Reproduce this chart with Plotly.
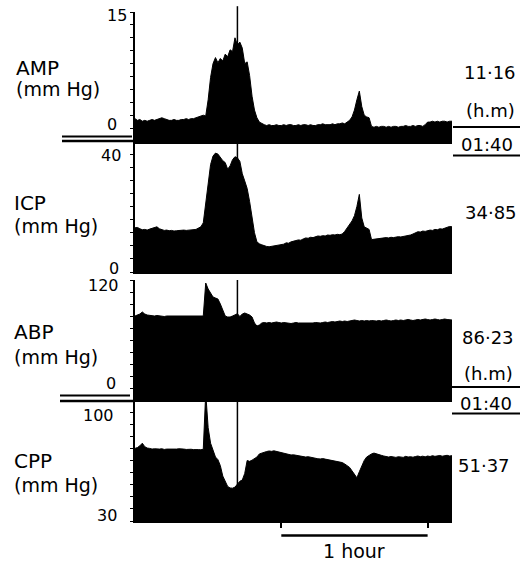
import plotly.graph_objects as go

# ---- recorded trend data (one sample per minute) ----
minutes = list(range(0, 131))

amp = [
    2.6, 2.4, 2.5, 2.3, 2.4, 2.3, 2.4, 2.5, 2.4, 2.5,
    2.6, 2.7, 2.6, 2.5, 2.4, 2.4, 2.5, 2.4, 2.4, 2.5,
    2.5, 2.6, 2.5, 2.6, 2.6, 2.7, 2.8, 2.9, 3.0, 2.9,
    4.8, 7.4, 9.0, 9.7, 9.1, 9.6, 9.3, 10.1, 9.8, 10.6,
    10.4, 12.0, 11.16, 11.5, 10.8, 9.0, 9.2, 7.6, 5.2, 3.6,
    2.7, 2.2, 2.0, 1.9, 1.8, 1.9, 1.8, 1.8, 1.9, 1.8,
    1.8, 1.9, 1.8, 1.9, 1.9, 1.8, 1.8, 1.9, 1.8, 1.9,
    1.9, 1.8, 1.9, 1.8, 1.8, 1.9, 1.9, 2.0, 1.9, 1.9,
    1.9, 2.0, 1.9, 2.0, 2.0, 2.1, 2.0, 2.2, 2.4, 2.8,
    3.6, 4.8, 5.8, 4.0, 3.0, 2.8, 2.7, 1.7, 1.6, 1.7,
    1.6, 1.7, 1.7, 1.6, 1.7, 1.6, 1.7, 1.7, 1.6, 1.7,
    1.7, 1.8, 1.7, 1.7, 1.8, 1.7, 1.8, 1.8, 1.7, 1.9,
    2.2, 2.2, 2.3, 2.2, 2.3, 2.2, 2.3, 2.3, 2.2, 2.3,
    2.3,
]

icp = [
    13.5, 13.6, 13.2, 12.9, 13.0, 12.8, 13.1, 13.4, 13.6, 13.8,
    13.2, 12.9, 12.7, 12.8, 12.6, 12.7, 12.5, 12.6, 12.7, 12.6,
    12.8, 12.7, 12.8, 12.9, 12.8, 13.0, 13.4, 13.8, 15.0, 21.0,
    28.5, 32.8, 35.4, 36.3, 36.0, 35.0, 34.0, 33.4, 31.4, 32.4,
    34.3, 35.2, 34.85, 33.8, 30.0, 27.8, 25.5, 21.5, 17.0, 12.0,
    9.2, 8.6, 8.3, 8.0, 7.8, 7.7, 7.8, 7.9, 8.1, 8.3,
    8.2, 8.5, 8.9, 8.8, 9.2, 9.5, 9.6, 9.8, 9.7, 10.1,
    10.4, 10.3, 10.6, 10.5, 10.8, 11.0, 10.9, 11.1, 11.0, 11.3,
    11.2, 11.4, 11.3, 11.5, 11.4, 11.6, 12.4, 13.5, 14.4, 15.6,
    17.2, 20.0, 23.7, 16.5, 13.8, 13.4, 13.0, 9.9, 10.0, 10.2,
    10.1, 10.4, 10.3, 10.5, 10.4, 10.6, 10.5, 10.7, 10.8, 10.7,
    10.8, 10.9, 11.0, 11.3, 11.6, 12.0, 12.3, 12.2, 12.5, 12.4,
    12.6, 12.8, 12.7, 13.0, 12.9, 13.2, 13.1, 13.4, 13.6, 13.9,
    13.8,
]

abp = [
    84, 85, 86, 88, 86, 85, 84.5, 84, 84, 84.5,
    84, 84, 83.5, 84, 84, 83.5, 84, 84, 83.5, 84,
    84, 83.5, 84, 84, 83.5, 84, 84, 84, 84, 117,
    111, 107, 103, 102, 101, 96, 89, 84, 83, 83,
    84, 85, 86.23, 83.5, 86, 87, 86, 85, 83, 77,
    74, 75, 77, 77.5, 77, 77.5, 77, 77.5, 78, 77.5,
    77, 77.5, 77, 77, 76.5, 77, 77.5, 77, 77, 76.5,
    77, 77, 76.5, 77, 77.5, 77, 77, 77.5, 78, 77.5,
    78, 78.5, 78, 78.5, 79, 78.5, 79, 78.5, 79, 79.5,
    80, 79.5, 79, 79.5, 79, 79.5, 79, 79.5, 79, 79,
    79.5, 79, 79.5, 80, 79.5, 79, 79.5, 80, 79.5, 80,
    79.5, 80, 80.5, 80, 79.5, 80, 80.5, 80, 80.5, 81,
    80.5, 80, 80.5, 81, 80.5, 80, 80.5, 81, 80.5, 80,
    80,
]

cpp = [
    72.0, 72.5, 73.5, 75.0, 73.0, 72.2, 72.0, 71.6, 71.8, 71.5,
    71.6, 71.8, 71.4, 71.6, 71.5, 71.7, 71.5, 71.6, 71.8, 71.5,
    71.6, 71.4, 71.6, 71.5, 71.3, 71.5, 71.3, 71.2, 71.5, 104.0,
    84.0, 75.0, 71.0, 67.0, 65.5, 62.0, 56.0, 52.6, 50.0, 49.1,
    49.0, 49.6, 51.37, 53.0, 53.7, 57.5, 65.0, 64.5, 65.2, 66.2,
    67.0, 68.8, 69.4, 69.9, 70.2, 70.5, 70.3, 70.6, 70.2, 69.8,
    69.5, 69.0, 68.6, 68.4, 68.2, 68.3, 68.0, 67.8, 67.5, 67.4,
    67.0, 67.2, 66.8, 66.6, 66.2, 66.0, 65.9, 66.1, 65.8, 65.5,
    65.2, 64.9, 64.5, 64.3, 64.1, 63.8, 63.0, 62.0, 61.0, 59.0,
    57.0, 55.0, 58.5, 62.0, 65.0, 67.0, 68.0, 68.8, 69.3, 69.0,
    68.5, 68.0, 67.6, 67.2, 67.0, 67.3, 67.0, 66.8, 67.2, 67.0,
    66.8, 67.4, 67.0, 67.2, 66.9, 67.3, 67.6, 67.2, 67.5, 67.1,
    67.6, 67.3, 67.8, 67.4, 67.6, 67.9, 67.5, 67.7, 68.0, 67.6,
    67.8,
]

channel_names = ["AMP", "ICP", "ABP", "CPP"]
unit_label = "(mm Hg)"
axis_ranges = [(0, 15), (0, 40), (0, 120), (30, 100)]
cursor_min = 42
cursor_time = "01:40"
time_unit = "(h.m)"
bar_start, bar_end = 60, 120
bar_label = "1 hour"

series = [amp, icp, abp, cpp]

# ---- page geometry (pixels) ----
W, H = 520, 564
L, R, T, B = 135, 68, 12, 43
PW, PH = W - L - R, H - T - B


def px(x):
    return (x - L) / PW


def py(y):
    return (H - B - y) / PH


FONT = "DejaVu Sans"
domains = [
    [py(141), py(12)],
    [py(272), py(141)],
    [py(400), py(280)],
    [py(521), py(400)],
]
minor_steps = [1.5, 4, 12, 7]
bottom_line_w = [2.5, 2, 2, 1.5]

fig = go.Figure()
for i, vals in enumerate(series):
    ax = "" if i == 0 else str(i + 1)
    fig.add_trace(go.Scatter(
        x=minutes, y=vals, mode="lines",
        line=dict(color="black", width=1),
        fill="tozeroy", fillcolor="black",
        xaxis="x" + ax, yaxis="y" + ax, hoverinfo="skip",
    ))

layout = dict(
    width=W, height=H,
    margin=dict(l=L, r=R, t=T, b=B, pad=0),
    paper_bgcolor="white", plot_bgcolor="white",
    showlegend=False,
    font=dict(family=FONT, color="black"),
)
for i in range(4):
    ax = "" if i == 0 else str(i + 1)
    lo, hi = axis_ranges[i]
    layout["xaxis" + ax] = dict(
        domain=[0, 1], range=[0, 130], anchor="y" + ax,
        showline=True, linecolor="black", linewidth=bottom_line_w[i],
        showgrid=False, zeroline=False, showticklabels=False,
        ticks="outside" if i == 3 else "",
        tickvals=[bar_start, bar_end] if i == 3 else [],
        ticklen=5, tickwidth=1.5, tickcolor="black",
        matches=None if i == 0 else "x",
    )
    layout["yaxis" + ax] = dict(
        domain=domains[i], range=[lo, hi], anchor="x" + ax,
        showline=True, linecolor="black", linewidth=2,
        showgrid=False, zeroline=False, showticklabels=False,
        ticks="outside", tickmode="linear", tick0=lo, dtick=minor_steps[i],
        ticklen=3, tickwidth=1.2, tickcolor="black",
    )
fig.update_layout(**layout)

shapes = []
# cursor line through every channel
for i in range(4):
    ax = "" if i == 0 else str(i + 1)
    shapes.append(dict(
        type="line", xref="x" + ax, yref="y" + ax + " domain",
        x0=cursor_min, x1=cursor_min, y0=0, y1=1.045 if i == 0 else 1,
        line=dict(color="black", width=1.5),
    ))


def hline(x0, x1, y, w=2):
    shapes.append(dict(type="line", xref="paper", yref="paper",
                       x0=px(x0), x1=px(x1), y0=py(y), y1=py(y),
                       line=dict(color="black", width=w)))


# double rules at the left of the channel pairs
hline(62, 132, 136.5, 2)
hline(62, 135, 141, 2.5)
hline(60, 130, 395.5, 2)
hline(60, 135, 401, 2.5)
# rules around the cursor time on the right
hline(453, 520, 127, 2)
hline(453, 520, 155.5, 2)
hline(452, 520, 387, 2)
hline(452, 520, 413.5, 2)
# time scale bar
shapes.append(dict(type="line", xref="x4", yref="paper",
                   x0=bar_start, x1=bar_end, y0=py(535.5), y1=py(535.5),
                   line=dict(color="black", width=2.5)))
fig.update_layout(shapes=shapes)

ann = []


def text(s, x, y, anchor="left", size=18):
    ann.append(dict(text=s, xref="paper", yref="paper", x=px(x), y=py(y),
                    xanchor=anchor, yanchor="middle", showarrow=False,
                    font=dict(family=FONT, size=size, color="black")))


# channel names
name_pos = [(15, 68.5, 88.5), (13, 203.5, 226.5), (13, 331.5, 357), (13, 461, 485)]
for name, (x, y1, y2) in zip(channel_names, name_pos):
    text(name, x - 1, y1, size=20)
    text(unit_label, x - 1, y2, size=19)

# scale end labels
tick_pos = [
    [(128, 15.5), (118, 125)],
    [(122, 155), (120, 268)],
    [(120, 285.5), (117, 383)],
    [(115, 415), (118, 515.5)],
]
for (lo, hi), ((xt, yt), (xb, yb)) in zip(axis_ranges, tick_pos):
    text(str(hi), xt + 1, yt, "right", 16)
    text(str(lo), xb + 1, yb, "right", 16)

# values at the cursor
idx = minutes.index(cursor_min)


def fmt(v):
    return f"{v:.2f}".replace(".", "\u00b7")


val_pos = [(490, 72), (491, 212), (488, 337.5), (484, 465.5)]
for vals, (x, y) in zip(series, val_pos):
    text(fmt(vals[idx]), x, y, "center")
text(time_unit, 490, 111, "center")
text(cursor_time, 487, 144.5, "center")
text(time_unit, 488, 373.5, "center")
text(cursor_time, 486, 403.5, "center")

ann.append(dict(text=bar_label, xref="x4", yref="paper",
                x=(bar_start + bar_end) / 2, y=py(550.5),
                xanchor="center", yanchor="middle", showarrow=False,
                font=dict(family=FONT, size=19, color="black")))
fig.update_layout(annotations=ann)

fig.write_html("out.html")
